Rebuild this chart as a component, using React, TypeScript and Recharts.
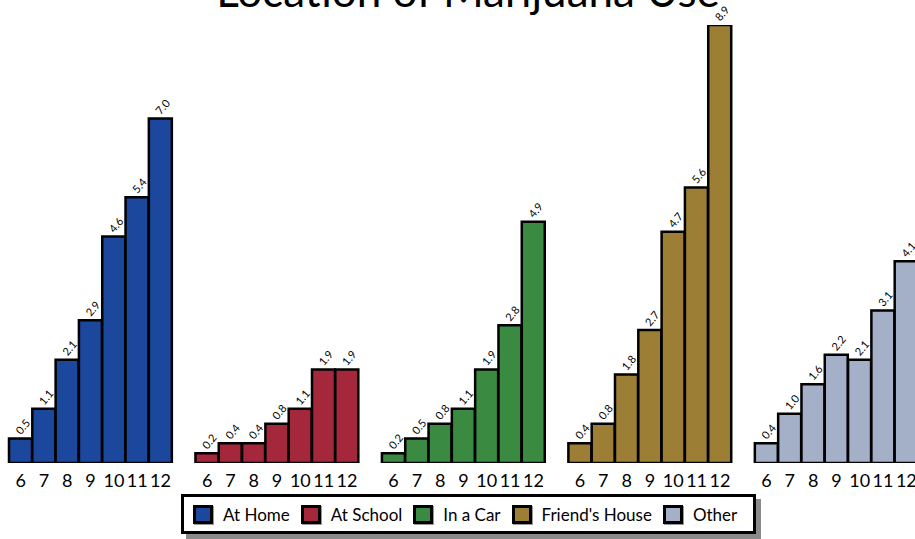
import { Bar, BarChart, Cell, LabelList, XAxis, YAxis } from 'recharts';

const grades = ['6', '7', '8', '9', '10', '11', '12'];
const seriesNames = ['At Home', 'At School', 'In a Car', "Friend's House", 'Other'];
const seriesColors = ['#1b479c', '#a5273b', '#3a8a41', '#9c7e35', '#a3b0c8'];

const atHome = [0.5, 1.1, 2.1, 2.9, 4.6, 5.4, 7.0];
const atSchool = [0.2, 0.4, 0.4, 0.8, 1.1, 1.9, 1.9];
const inCar = [0.2, 0.5, 0.8, 1.1, 1.9, 2.8, 4.9];
const friendsHouse = [0.4, 0.8, 1.8, 2.7, 4.7, 5.6, 8.9];
const other = [0.4, 1.0, 1.6, 2.2, 2.1, 3.1, 4.1];

const allSeries = [atHome, atSchool, inCar, friendsHouse, other];

type Row = { key: string; label: string; value: number | null; color: string };

// one slot per bar, one empty slot between groups
const rows: Row[] = [];
allSeries.forEach((vals, si) => {
  if (si > 0) rows.push({ key: `gap${si}`, label: '', value: null, color: 'none' });
  vals.forEach((v, i) =>
    rows.push({ key: `${si}-${i}`, label: grades[i], value: v, color: seriesColors[si] }),
  );
});

const FONT = 'Lato, "DejaVu Sans", sans-serif';

function ValueLabel(props: any) {
  const { x, y, width, value } = props;
  if (value == null) return null;
  const cx = Number(x) + Number(width) / 2 + 2;
  const cy = Number(y) - 12;
  return (
    <g transform={`translate(${cx} ${cy}) rotate(-50)`}>
      <text
        x={0}
        y={0}
        textAnchor="middle"
        dominantBaseline="central"
        fontSize={11}
        fontFamily={FONT}
        fill="#000"
      >
        {Number(value).toFixed(1)}
      </text>
    </g>
  );
}

export default function App() {
  return (
    <div
      style={{
        position: 'fixed',
        left: 0,
        top: 0,
        width: 915,
        height: 539,
        overflow: 'hidden',
        background: '#fff',
        fontFamily: FONT,
      }}
    >
      <div
        style={{
          position: 'absolute',
          top: -36,
          left: 0,
          width: 936,
          textAlign: 'center',
          fontSize: 44,
          color: '#000',
        }}
      >
        Location of Marijuana Use
      </div>
      <BarChart
        width={918}
        height={539}
        data={rows}
        barCategoryGap={0}
        margin={{ top: 25, right: 0, left: 9, bottom: 46 }}
      >
        <XAxis
          dataKey="key"
          interval={0}
          axisLine={false}
          tickLine={false}
          height={30}
          tickMargin={5}
          tickFormatter={(k: string) => rows.find((r) => r.key === k)?.label ?? ''}
          tick={{ fontSize: 18, fill: '#000', fontFamily: FONT }}
        />
        <YAxis hide domain={[0, 8.9]} allowDataOverflow />
        <Bar dataKey="value" stroke="#000" strokeWidth={2.5} isAnimationActive={false}>
          {rows.map((r) => (
            <Cell key={r.key} fill={r.color} />
          ))}
          <LabelList dataKey="value" content={<ValueLabel />} />
        </Bar>
      </BarChart>
      <div
        style={{
          position: 'absolute',
          left: 181,
          top: 494,
          width: 560,
          height: 34,
          border: '3px solid #000',
          background: '#fff',
          boxShadow: '5px 5px 0 #8a8a8a',
          display: 'flex',
          alignItems: 'center',
          paddingLeft: 9,
          boxSizing: 'content-box',
          fontSize: 17,
        }}
      >
        {seriesNames.map((n, i) => (
          <div key={n} style={{ display: 'flex', alignItems: 'center', marginRight: 11 }}>
            <span
              style={{
                display: 'inline-block',
                width: 14,
                height: 13,
                background: seriesColors[i],
                border: '3px solid #000',
                boxShadow: '1px 1px 0 #999',
                marginRight: 10,
              }}
            />
            <span>{n}</span>
          </div>
        ))}
      </div>
    </div>
  );
}
